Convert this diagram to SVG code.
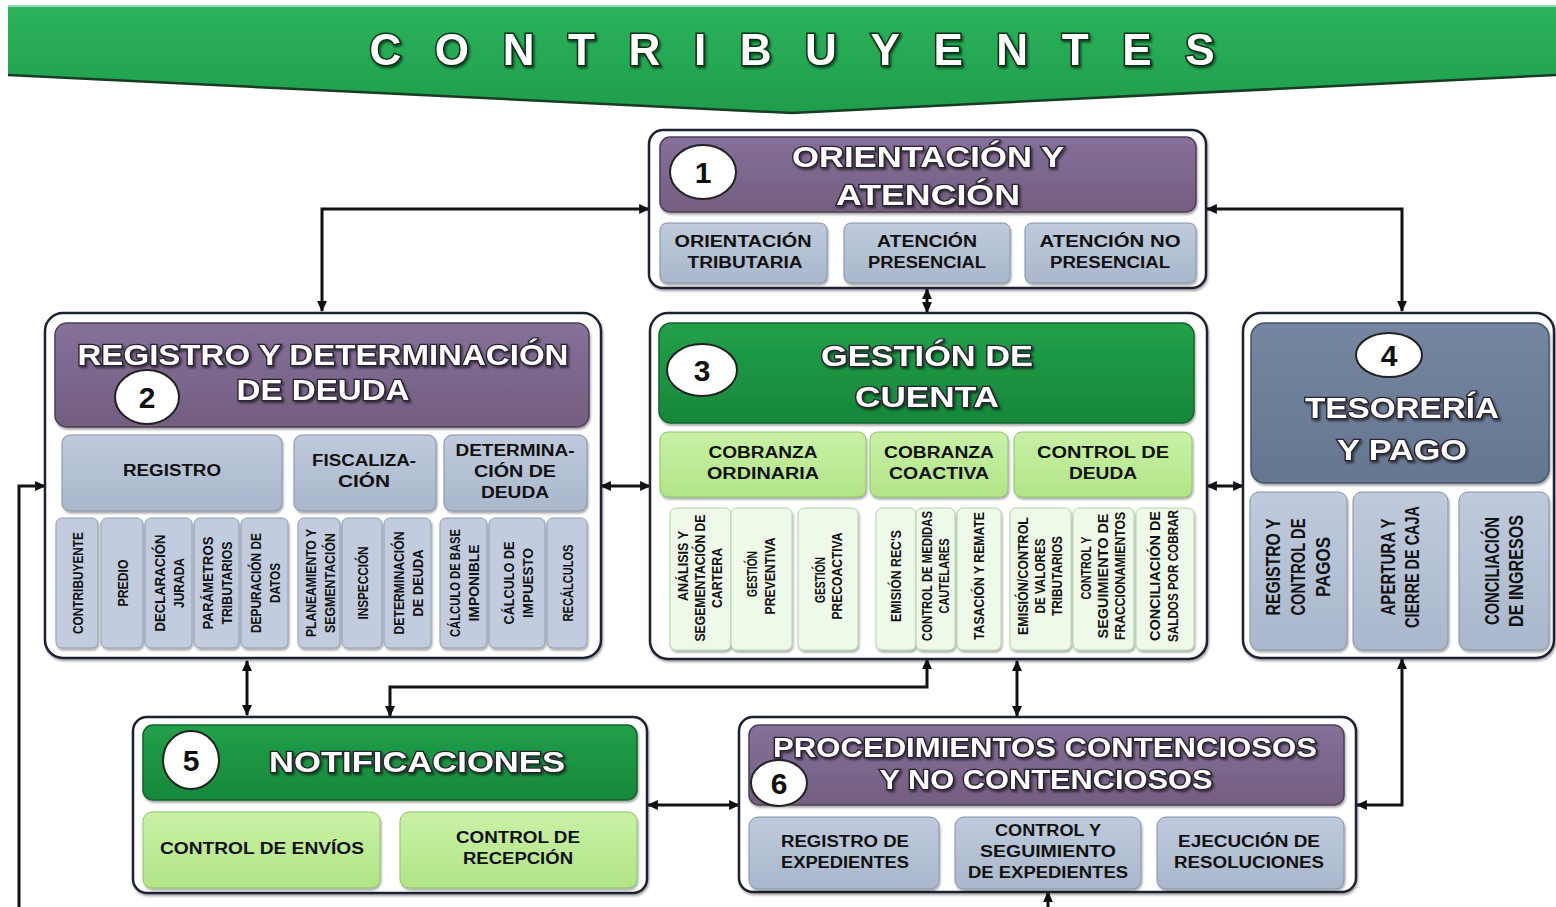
<svg xmlns="http://www.w3.org/2000/svg" width="1556" height="907" viewBox="0 0 1556 907">
<defs>
<linearGradient id="gBand" x1="0" y1="0" x2="0" y2="1"><stop offset="0" stop-color="#2cb35c"/><stop offset="1" stop-color="#1f9d4b"/></linearGradient>
<linearGradient id="gPurple" x1="0" y1="0" x2="0" y2="1"><stop offset="0" stop-color="#86709a"/><stop offset="1" stop-color="#735e80"/></linearGradient>
<linearGradient id="gGreen" x1="0" y1="0" x2="0" y2="1"><stop offset="0" stop-color="#22a04a"/><stop offset="1" stop-color="#17873a"/></linearGradient>
<linearGradient id="gSlate" x1="0" y1="0" x2="0" y2="1"><stop offset="0" stop-color="#7586a2"/><stop offset="1" stop-color="#65768f"/></linearGradient>
<linearGradient id="gLight" x1="0" y1="0" x2="0" y2="1"><stop offset="0" stop-color="#bfcadc"/><stop offset="1" stop-color="#aab7cc"/></linearGradient>
<linearGradient id="gLG" x1="0" y1="0" x2="0" y2="1"><stop offset="0" stop-color="#c9f1a6"/><stop offset="1" stop-color="#b2e487"/></linearGradient>
<filter id="sh" x="-10%" y="-10%" width="130%" height="130%"><feDropShadow dx="1" dy="2" stdDeviation="1.2" flood-color="#000" flood-opacity="0.35"/></filter>
<filter id="ts" x="-10%" y="-20%" width="130%" height="150%"><feDropShadow dx="1.5" dy="2" stdDeviation="0.8" flood-color="#000" flood-opacity="0.55"/></filter>
<marker id="ah" viewBox="0 0 10 10" refX="9" refY="5" markerWidth="11" markerHeight="11" markerUnits="userSpaceOnUse" orient="auto-start-reverse"><path d="M0,0.5 L10,5 L0,9.5 z" fill="#111"/></marker>
<style>
.outer{fill:#fff;stroke:#1e2430;stroke-width:2.5;filter:url(#sh)}
.hp{fill:url(#gPurple);stroke:#4f3f5a;stroke-width:1.5;filter:url(#sh)}
.hg{fill:url(#gGreen);stroke:#12632c;stroke-width:1.5;filter:url(#sh)}
.hs{fill:url(#gSlate);stroke:#48566e;stroke-width:1.5;filter:url(#sh)}
.sb{fill:url(#gLight);stroke:#8592a8;stroke-width:1;filter:url(#sh)}
.sv{fill:#c2ccde;stroke:#8f9cb2;stroke-width:1;filter:url(#sh)}
.lg{fill:url(#gLG);stroke:#8cc56a;stroke-width:1;filter:url(#sh)}
.vg{fill:#eef9ea;stroke:#b4d2ac;stroke-width:1;filter:url(#sh)}
.circ{fill:#fff;stroke:#222;stroke-width:2}
.t{font-family:"Liberation Sans",Arial,sans-serif;font-weight:700;fill:#111;text-anchor:middle}
.s16{font-size:16px}
.v14{font-size:15px}
.v13{font-size:14px}
.v20{font-size:20px}
.tt{font-family:"Liberation Sans",Arial,sans-serif;font-weight:700;font-size:30px;fill:#fff;stroke:#2a2230;stroke-width:2.5;paint-order:stroke;text-anchor:middle;filter:url(#ts)}
.num{font-family:"Liberation Sans",Arial,sans-serif;font-weight:700;font-size:30px;fill:#111;text-anchor:middle}
.conn{fill:none;stroke:#111;stroke-width:3}
</style>
</defs>
<rect width="1556" height="907" fill="#fff"/>

<g id="header">
<polygon points="8,6 1556,6 1556,75 792,113 8,75" fill="url(#gBand)"/>
<line x1="8" y1="6" x2="1556" y2="6" stroke="#8fd9c0" stroke-width="2"/>
<polyline points="8,75 792,113 1556,75" fill="none" stroke="#173d25" stroke-width="2.5"/>
<text x="792" y="65" textLength="845" lengthAdjust="spacing" style="font-family:'Liberation Sans',Arial,sans-serif;font-weight:700;font-size:44px;fill:#fff;stroke:#0b2f18;stroke-width:3;paint-order:stroke;text-anchor:middle;filter:url(#ts)">CONTRIBUYENTES</text>
</g>

<g id="connectors">
<path class="conn" d="M322,311 V209 H649" marker-start="url(#ah)" marker-end="url(#ah)"/>
<path class="conn" d="M1402,311 V209 H1207" marker-start="url(#ah)" marker-end="url(#ah)"/>
<path class="conn" d="M927,289 V312" marker-start="url(#ah)" marker-end="url(#ah)"/>
<path class="conn" d="M601,486 H650" marker-start="url(#ah)" marker-end="url(#ah)"/>
<path class="conn" d="M1207,486 H1243" marker-start="url(#ah)" marker-end="url(#ah)"/>
<path class="conn" d="M19,907 V486 H45" marker-end="url(#ah)"/>
<path class="conn" d="M247,661 V715" marker-start="url(#ah)" marker-end="url(#ah)"/>
<path class="conn" d="M927,659 V687 H390 V716" marker-start="url(#ah)" marker-end="url(#ah)"/>
<path class="conn" d="M1017,661 V716" marker-start="url(#ah)" marker-end="url(#ah)"/>
<path class="conn" d="M648,805 H739" marker-start="url(#ah)" marker-end="url(#ah)"/>
<path class="conn" d="M1402,659 V805 H1357" marker-start="url(#ah)" marker-end="url(#ah)"/>
<path class="conn" d="M1048,907 V892" marker-end="url(#ah)"/>
</g>

<g id="node1">
<rect class="outer" x="649" y="130" width="557" height="158" rx="14"/>
<rect class="hp" x="660" y="137" width="536" height="75" rx="10"/>
<ellipse class="circ" cx="703" cy="172" rx="33" ry="27"/>
<text class="num" x="703" y="183">1</text>
<text class="tt" x="928" y="167" textLength="272" lengthAdjust="spacingAndGlyphs">ORIENTACIÓN Y</text>
<text class="tt" x="928" y="205" textLength="184" lengthAdjust="spacingAndGlyphs">ATENCIÓN</text>
<rect class="sb" x="660" y="223" width="167" height="60" rx="7"/>
<rect class="sb" x="844" y="223" width="166" height="60" rx="7"/>
<rect class="sb" x="1025" y="223" width="171" height="60" rx="7"/>
<text class="t s16" x="743" y="247" textLength="137" lengthAdjust="spacingAndGlyphs">ORIENTACIÓN</text>
<text class="t s16" x="745" y="268" textLength="115" lengthAdjust="spacingAndGlyphs">TRIBUTARIA</text>
<text class="t s16" x="927" y="247" textLength="100" lengthAdjust="spacingAndGlyphs">ATENCIÓN</text>
<text class="t s16" x="927" y="268" textLength="118" lengthAdjust="spacingAndGlyphs">PRESENCIAL</text>
<text class="t s16" x="1110" y="247" textLength="141" lengthAdjust="spacingAndGlyphs">ATENCIÓN NO</text>
<text class="t s16" x="1110" y="268" textLength="120" lengthAdjust="spacingAndGlyphs">PRESENCIAL</text>
</g>

<g id="node2">
<rect class="outer" x="45" y="313" width="556" height="345" rx="18"/>
<rect class="hp" x="55" y="323" width="534" height="104" rx="12"/>
<text class="tt" x="323" y="365" textLength="491" lengthAdjust="spacingAndGlyphs">REGISTRO Y DETERMINACIÓN</text>
<text class="tt" x="323" y="400" textLength="173" lengthAdjust="spacingAndGlyphs">DE DEUDA</text>
<ellipse class="circ" cx="147" cy="397" rx="32" ry="27"/>
<text class="num" x="147" y="408">2</text>
<rect class="sb" x="62" y="435" width="220" height="76" rx="8"/>
<rect class="sb" x="294" y="435" width="142" height="76" rx="8"/>
<rect class="sb" x="444" y="435" width="143" height="76" rx="8"/>
<text class="t s16" x="172" y="476" textLength="98" lengthAdjust="spacingAndGlyphs">REGISTRO</text>
<text class="t s16" x="364" y="466" textLength="104" lengthAdjust="spacingAndGlyphs">FISCALIZA-</text>
<text class="t s16" x="364" y="487" textLength="52" lengthAdjust="spacingAndGlyphs">CIÓN</text>
<text class="t s16" x="515" y="456" textLength="119" lengthAdjust="spacingAndGlyphs">DETERMINA-</text>
<text class="t s16" x="515" y="477" textLength="82" lengthAdjust="spacingAndGlyphs">CIÓN DE</text>
<text class="t s16" x="515" y="498" textLength="68" lengthAdjust="spacingAndGlyphs">DEUDA</text>
<rect class="sv" x="56" y="518" width="42" height="130" rx="6"/>
<rect class="sv" x="101" y="518" width="42" height="130" rx="6"/>
<rect class="sv" x="145" y="518" width="47" height="130" rx="6"/>
<rect class="sv" x="194" y="518" width="45" height="130" rx="6"/>
<rect class="sv" x="241" y="518" width="47" height="130" rx="6"/>
<rect class="sv" x="298" y="518" width="42" height="130" rx="6"/>
<rect class="sv" x="342" y="518" width="40" height="130" rx="6"/>
<rect class="sv" x="384" y="518" width="47" height="130" rx="6"/>
<rect class="sv" x="440" y="518" width="47" height="130" rx="6"/>
<rect class="sv" x="489" y="518" width="56" height="130" rx="6"/>
<rect class="sv" x="547" y="518" width="40" height="130" rx="6"/>
<text class="t v14" transform="translate(77 583) rotate(-90)" y="5.5" textLength="102" lengthAdjust="spacingAndGlyphs">CONTRIBUYENTE</text>
<text class="t v14" transform="translate(122 583) rotate(-90)" y="5.5" textLength="47" lengthAdjust="spacingAndGlyphs">PREDIO</text>
<text class="t v14" transform="translate(159 583) rotate(-90)" y="5.5" textLength="97" lengthAdjust="spacingAndGlyphs">DECLARACIÓN</text>
<text class="t v14" transform="translate(178 583) rotate(-90)" y="5.5" textLength="50" lengthAdjust="spacingAndGlyphs">JURADA</text>
<text class="t v14" transform="translate(207 583) rotate(-90)" y="5.5" textLength="93" lengthAdjust="spacingAndGlyphs">PARÁMETROS</text>
<text class="t v14" transform="translate(226 583) rotate(-90)" y="5.5" textLength="83" lengthAdjust="spacingAndGlyphs">TRIBUTARIOS</text>
<text class="t v14" transform="translate(255 583) rotate(-90)" y="5.5" textLength="100" lengthAdjust="spacingAndGlyphs">DEPURACIÓN DE</text>
<text class="t v14" transform="translate(274 583) rotate(-90)" y="5.5" textLength="40" lengthAdjust="spacingAndGlyphs">DATOS</text>
<text class="t v14" transform="translate(310 583) rotate(-90)" y="5.5" textLength="108" lengthAdjust="spacingAndGlyphs">PLANEAMIENTO Y</text>
<text class="t v14" transform="translate(329 583) rotate(-90)" y="5.5" textLength="100" lengthAdjust="spacingAndGlyphs">SEGMENTACIÓN</text>
<text class="t v14" transform="translate(362 583) rotate(-90)" y="5.5" textLength="73" lengthAdjust="spacingAndGlyphs">INSPECCIÓN</text>
<text class="t v14" transform="translate(398 583) rotate(-90)" y="5.5" textLength="103" lengthAdjust="spacingAndGlyphs">DETERMINACIÓN</text>
<text class="t v14" transform="translate(417 583) rotate(-90)" y="5.5" textLength="67" lengthAdjust="spacingAndGlyphs">DE DEUDA</text>
<text class="t v14" transform="translate(454 583) rotate(-90)" y="5.5" textLength="108" lengthAdjust="spacingAndGlyphs">CÁLCULO DE BASE</text>
<text class="t v14" transform="translate(473 583) rotate(-90)" y="5.5" textLength="77" lengthAdjust="spacingAndGlyphs">IMPONIBLE</text>
<text class="t v14" transform="translate(508 583) rotate(-90)" y="5.5" textLength="83" lengthAdjust="spacingAndGlyphs">CÁLCULO DE</text>
<text class="t v14" transform="translate(527 583) rotate(-90)" y="5.5" textLength="70" lengthAdjust="spacingAndGlyphs">IMPUESTO</text>
<text class="t v14" transform="translate(567 583) rotate(-90)" y="5.5" textLength="77" lengthAdjust="spacingAndGlyphs">RECÁLCULOS</text>
</g>

<g id="node3">
<rect class="outer" x="650" y="313" width="557" height="346" rx="18"/>
<rect class="hg" x="659" y="323" width="535" height="100" rx="12"/>
<ellipse class="circ" cx="702" cy="370" rx="35" ry="26"/>
<text class="num" x="702" y="381">3</text>
<text class="tt" x="927" y="366" textLength="212" lengthAdjust="spacingAndGlyphs">GESTIÓN DE</text>
<text class="tt" x="927" y="407" textLength="144" lengthAdjust="spacingAndGlyphs">CUENTA</text>
<rect class="lg" x="660" y="432" width="206" height="65" rx="8"/>
<rect class="lg" x="870" y="432" width="138" height="65" rx="8"/>
<rect class="lg" x="1014" y="432" width="178" height="65" rx="8"/>
<text class="t s16" x="763" y="458" textLength="109" lengthAdjust="spacingAndGlyphs">COBRANZA</text>
<text class="t s16" x="763" y="479" textLength="112" lengthAdjust="spacingAndGlyphs">ORDINARIA</text>
<text class="t s16" x="939" y="458" textLength="110" lengthAdjust="spacingAndGlyphs">COBRANZA</text>
<text class="t s16" x="939" y="479" textLength="100" lengthAdjust="spacingAndGlyphs">COACTIVA</text>
<text class="t s16" x="1103" y="458" textLength="132" lengthAdjust="spacingAndGlyphs">CONTROL  DE</text>
<text class="t s16" x="1103" y="479" textLength="68" lengthAdjust="spacingAndGlyphs">DEUDA</text>
<rect class="vg" x="670" y="508" width="61" height="142" rx="6"/>
<rect class="vg" x="731" y="508" width="61" height="142" rx="6"/>
<rect class="vg" x="798" y="508" width="60" height="142" rx="6"/>
<rect class="vg" x="876" y="508" width="40" height="142" rx="6"/>
<rect class="vg" x="916" y="508" width="39" height="142" rx="6"/>
<rect class="vg" x="957" y="508" width="44" height="142" rx="6"/>
<rect class="vg" x="1010" y="508" width="61" height="142" rx="6"/>
<rect class="vg" x="1073" y="508" width="61" height="142" rx="6"/>
<rect class="vg" x="1136" y="508" width="58" height="142" rx="6"/>
<text class="t v13" transform="translate(683 566) rotate(-90)" y="5" textLength="70" lengthAdjust="spacingAndGlyphs">ANÁLISIS Y</text>
<text class="t v13" transform="translate(700 578) rotate(-90)" y="5" textLength="127" lengthAdjust="spacingAndGlyphs">SEGEMENTACIÓN DE</text>
<text class="t v13" transform="translate(717 578) rotate(-90)" y="5" textLength="60" lengthAdjust="spacingAndGlyphs">CARTERA</text>
<text class="t v13" transform="translate(752 574) rotate(-90)" y="5" textLength="46" lengthAdjust="spacingAndGlyphs">GESTIÓN</text>
<text class="t v13" transform="translate(770 576) rotate(-90)" y="5" textLength="77" lengthAdjust="spacingAndGlyphs">PREVENTIVA</text>
<text class="t v13" transform="translate(820 580) rotate(-90)" y="5" textLength="46" lengthAdjust="spacingAndGlyphs">GESTIÓN</text>
<text class="t v13" transform="translate(837 576) rotate(-90)" y="5" textLength="87" lengthAdjust="spacingAndGlyphs">PRECOACTIVA</text>
<text class="t v13" transform="translate(896 576) rotate(-90)" y="5" textLength="92" lengthAdjust="spacingAndGlyphs">EMISIÓN REC'S</text>
<text class="t v13" transform="translate(927 576) rotate(-90)" y="5" textLength="130" lengthAdjust="spacingAndGlyphs">CONTROL DE MEDIDAS</text>
<text class="t v13" transform="translate(944 576) rotate(-90)" y="5" textLength="75" lengthAdjust="spacingAndGlyphs">CAUTELARES</text>
<text class="t v13" transform="translate(979 576) rotate(-90)" y="5" textLength="128" lengthAdjust="spacingAndGlyphs">TASACIÓN Y REMATE</text>
<text class="t v13" transform="translate(1023 576) rotate(-90)" y="5" textLength="118" lengthAdjust="spacingAndGlyphs">EMISIÓN/CONTROL</text>
<text class="t v13" transform="translate(1040 576) rotate(-90)" y="5" textLength="75" lengthAdjust="spacingAndGlyphs">DE VALORES</text>
<text class="t v13" transform="translate(1057 576) rotate(-90)" y="5" textLength="80" lengthAdjust="spacingAndGlyphs">TRIBUTARIOS</text>
<text class="t v13" transform="translate(1086 568) rotate(-90)" y="5" textLength="63" lengthAdjust="spacingAndGlyphs">CONTROL Y</text>
<text class="t v13" transform="translate(1103 576) rotate(-90)" y="5" textLength="125" lengthAdjust="spacingAndGlyphs">SEGUIMIENTO DE</text>
<text class="t v13" transform="translate(1120 576) rotate(-90)" y="5" textLength="128" lengthAdjust="spacingAndGlyphs">FRACCIONAMIENTOS</text>
<text class="t v13" transform="translate(1155 576) rotate(-90)" y="5" textLength="130" lengthAdjust="spacingAndGlyphs">CONCILIACIÓN DE</text>
<text class="t v13" transform="translate(1173 576) rotate(-90)" y="5" textLength="132" lengthAdjust="spacingAndGlyphs">SALDOS POR COBRAR</text>
</g>

<g id="node4">
<rect class="outer" x="1243" y="313" width="311" height="345" rx="18"/>
<rect class="hs" x="1251" y="323" width="298" height="160" rx="14"/>
<ellipse class="circ" cx="1389" cy="355" rx="33" ry="22"/>
<text class="num" x="1389" y="366">4</text>
<text class="tt" x="1402" y="418" textLength="194" lengthAdjust="spacingAndGlyphs">TESORERÍA</text>
<text class="tt" x="1402" y="460" textLength="130" lengthAdjust="spacingAndGlyphs">Y PAGO</text>
<rect class="sb" x="1250" y="492" width="97" height="158" rx="9"/>
<rect class="sb" x="1353" y="492" width="95" height="158" rx="9"/>
<rect class="sb" x="1459" y="492" width="90" height="158" rx="9"/>
<text class="t v20" transform="translate(1273 567) rotate(-90)" y="7" textLength="97" lengthAdjust="spacingAndGlyphs">REGISTRO Y</text>
<text class="t v20" transform="translate(1298 567) rotate(-90)" y="7" textLength="97" lengthAdjust="spacingAndGlyphs">CONTROL DE</text>
<text class="t v20" transform="translate(1323 567) rotate(-90)" y="7" textLength="60" lengthAdjust="spacingAndGlyphs">PAGOS</text>
<text class="t v20" transform="translate(1388 567) rotate(-90)" y="7" textLength="97" lengthAdjust="spacingAndGlyphs">APERTURA Y</text>
<text class="t v20" transform="translate(1412 567) rotate(-90)" y="7" textLength="122" lengthAdjust="spacingAndGlyphs">CIERRE DE CAJA</text>
<text class="t v20" transform="translate(1492 571) rotate(-90)" y="7" textLength="108" lengthAdjust="spacingAndGlyphs">CONCILIACIÓN</text>
<text class="t v20" transform="translate(1516 571) rotate(-90)" y="7" textLength="112" lengthAdjust="spacingAndGlyphs">DE INGRESOS</text>
</g>

<g id="node5">
<rect class="outer" x="133" y="717" width="514" height="176" rx="14"/>
<rect class="hg" x="143" y="725" width="494" height="75" rx="10"/>
<ellipse class="circ" cx="191" cy="760" rx="28" ry="29"/>
<text class="num" x="191" y="771">5</text>
<text class="tt" x="417" y="772" textLength="296" lengthAdjust="spacingAndGlyphs">NOTIFICACIONES</text>
<rect class="lg" x="143" y="812" width="237" height="76" rx="9"/>
<rect class="lg" x="400" y="812" width="237" height="76" rx="9"/>
<text class="t s16" x="262" y="854" textLength="204" lengthAdjust="spacingAndGlyphs">CONTROL DE ENVÍOS</text>
<text class="t s16" x="518" y="843" textLength="124" lengthAdjust="spacingAndGlyphs">CONTROL DE</text>
<text class="t s16" x="518" y="864" textLength="110" lengthAdjust="spacingAndGlyphs">RECEPCIÓN</text>
</g>

<g id="node6">
<rect class="outer" x="739" y="717" width="617" height="175" rx="14"/>
<rect class="hp" x="749" y="725" width="595" height="80" rx="10"/>
<text class="tt" x="1045" y="757" style="font-size:27px" textLength="544" lengthAdjust="spacingAndGlyphs">PROCEDIMIENTOS CONTENCIOSOS</text>
<text class="tt" x="1046" y="789" style="font-size:27px" textLength="333" lengthAdjust="spacingAndGlyphs">Y NO CONTENCIOSOS</text>
<ellipse class="circ" cx="779" cy="783" rx="28" ry="23"/>
<text class="num" x="779" y="794">6</text>
<rect class="sb" x="749" y="817" width="190" height="72" rx="9"/>
<rect class="sb" x="955" y="817" width="186" height="72" rx="9"/>
<rect class="sb" x="1157" y="817" width="187" height="72" rx="9"/>
<text class="t s16" x="845" y="847" textLength="128" lengthAdjust="spacingAndGlyphs">REGISTRO DE</text>
<text class="t s16" x="845" y="868" textLength="128" lengthAdjust="spacingAndGlyphs">EXPEDIENTES</text>
<text class="t s16" x="1048" y="836" textLength="106" lengthAdjust="spacingAndGlyphs">CONTROL Y</text>
<text class="t s16" x="1048" y="857" textLength="136" lengthAdjust="spacingAndGlyphs">SEGUIMIENTO</text>
<text class="t s16" x="1048" y="878" textLength="160" lengthAdjust="spacingAndGlyphs">DE EXPEDIENTES</text>
<text class="t s16" x="1249" y="847" textLength="142" lengthAdjust="spacingAndGlyphs">EJECUCIÓN DE</text>
<text class="t s16" x="1249" y="868" textLength="150" lengthAdjust="spacingAndGlyphs">RESOLUCIONES</text>
</g>
</svg>
